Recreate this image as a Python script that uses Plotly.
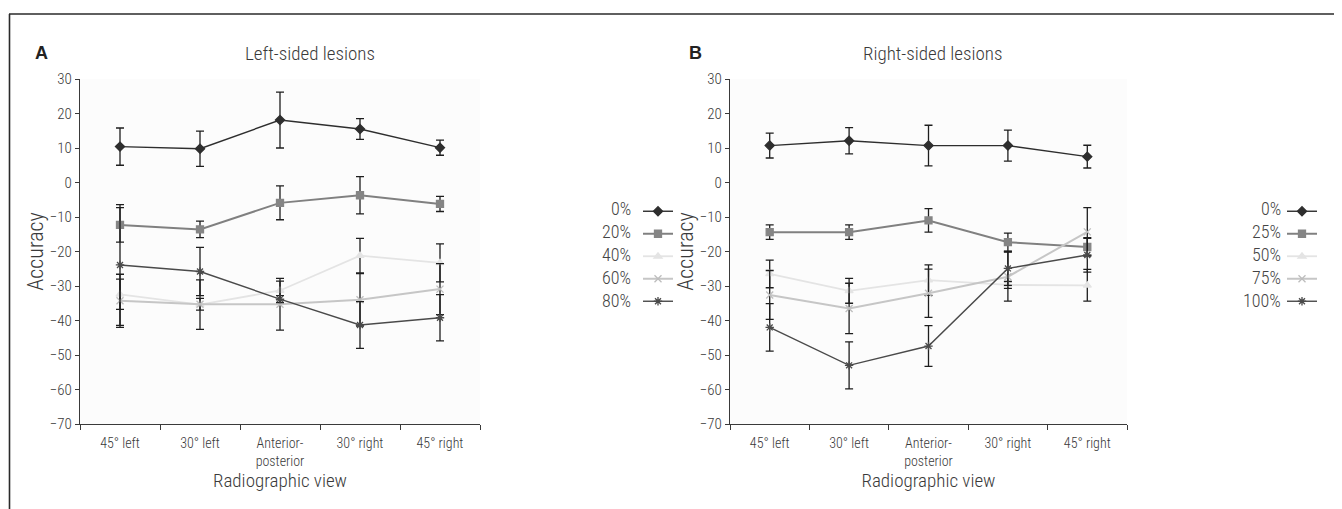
import plotly.graph_objects as go

# ---------------- data ----------------
views = ["45° left", "30° left", "Anterior-<br>posterior", "30° right", "45° right"]

left_names = ["0%", "20%", "40%", "60%", "80%"]
left_0 = [10.4, 9.8, 18.1, 15.5, 10.1]
left_0_err = [5.4, 5.1, 8.1, 3.0, 2.2]
left_20 = [-12.3, -13.6, -5.9, -3.7, -6.2]
left_20_err = [5.0, 2.4, 4.9, 5.4, 2.2]
left_40 = [-32.4, -35.4, -31.3, -21.2, -23.3]
left_40_err = [4.4, 7.2, 2.7, 5.0, 5.5]
left_60 = [-34.3, -35.3, -35.3, -34.0, -30.9]
left_60_err = [7.7, 1.7, 7.5, 7.6, 7.4]
left_80 = [-23.9, -25.8, -33.8, -41.3, -39.2]
left_80_err = [17.5, 7.0, 1.0, 6.8, 6.7]

right_names = ["0%", "25%", "50%", "75%", "100%"]
right_0 = [10.7, 12.1, 10.7, 10.7, 7.5]
right_0_err = [3.6, 3.8, 5.9, 4.5, 3.3]
right_25 = [-14.4, -14.4, -11.0, -17.3, -18.7]
right_25_err = [2.1, 2.1, 3.4, 2.6, 2.5]
right_50 = [-26.5, -31.4, -28.3, -29.7, -29.8]
right_50_err = [4.0, 3.6, 4.4, 1.0, 4.6]
right_75 = [-32.6, -36.5, -32.1, -27.3, -14.3]
right_75_err = [7.1, 7.3, 7.0, 7.1, 7.0]
right_100 = [-42.0, -53.0, -47.4, -24.9, -21.0]
right_100_err = [6.9, 6.8, 5.9, 4.9, 5.0]

y_ticks = [30, 20, 10, 0, -10, -20, -30, -40, -50, -60, -70]

# ---------------- styles ----------------
W, H = 1342, 509
OFF = 8  # page offset of the figure inside the browser window
FONT = "Roboto Condensed, Liberation Sans Narrow, Liberation Sans, Arial, sans-serif"
AX = "#3a3a3a"
TXT = "#3a3a3a"

styles = [
    dict(line="#2e2e2e", width=1.4, symbol="diamond", msize=7, mcolor="#2e2e2e"),
    dict(line="#808080", width=2.0, symbol="square", msize=7, mcolor="#858585"),
    dict(line="#e4e4e4", width=1.8, symbol="triangle-up", msize=7, mcolor="#e4e4e4"),
    dict(line="#c6c6c6", width=2.0, symbol="x-thin-open", msize=7, mcolor="#bdbdbd"),
    dict(line="#4a4a4a", width=1.4, symbol="asterisk-open", msize=7, mcolor="#4a4a4a"),
]

left_series = [(left_0, left_0_err), (left_20, left_20_err), (left_40, left_40_err),
               (left_60, left_60_err), (left_80, left_80_err)]
right_series = [(right_0, right_0_err), (right_25, right_25_err), (right_50, right_50_err),
                (right_75, right_75_err), (right_100, right_100_err)]

fig = go.Figure()

def add_panel(series, names, xa, ya, legend):
    for (vals, errs), name, st in zip(series, names, styles):
        fig.add_trace(go.Scatter(
            x=views, y=vals, name="", legend=legend, xaxis=xa, yaxis=ya,
            mode="lines+markers",
            line=dict(color=st["line"], width=st["width"]),
            marker=dict(symbol=st["symbol"], size=st["msize"], color=st["mcolor"],
                        line=dict(color=st["mcolor"], width=1.3)),
            error_y=dict(type="data", array=errs, visible=True, color="#1e1e1e",
                         thickness=1.3, width=4),
            showlegend=True,
        ))

add_panel(left_series, left_names, "x", "y", "legend")
add_panel(right_series, right_names, "x2", "y2", "legend2")

def px_x(p):
    return (p - OFF) / W

def px_y(p):
    return 1 - (p - OFF) / H

y_dom = [px_y(424), px_y(79)]

axis_common = dict(
    showline=True, linecolor=AX, linewidth=1.2, showgrid=False, zeroline=False,
    ticks="outside", tickcolor=AX, tickwidth=1.2, automargin=False,
)
tick_font_x = dict(family=FONT, size=14, color=TXT, weight=300)
tick_font_y = dict(family=FONT, size=15, color=TXT, weight=300)
title_font = dict(family=FONT, size=19, color=TXT, weight=300)
ytitle_font = dict(family=FONT, size=22, color=TXT, weight=300)

xaxis_common = dict(type="category", tickson="boundaries", ticklen=5, range=[-0.5, 4.5],
                    ticklabelstandoff=6, tickfont=tick_font_x,
                    title=dict(text="Radiographic view", font=title_font, standoff=4),
                    **axis_common)
yaxis_common = dict(domain=y_dom, range=[-70, 30], tickvals=y_ticks, ticklen=4,
                    tickfont=tick_font_y,
                    title=dict(text="Accuracy", font=ytitle_font, standoff=0),
                    **axis_common)

fig.update_layout(
    template="none",
    width=W, height=H,
    margin=dict(l=0, r=0, t=0, b=0, pad=0),
    paper_bgcolor="white", plot_bgcolor="#fcfcfc",
    font=dict(family=FONT, color=TXT),
    xaxis=dict(domain=[px_x(80), px_x(480)], anchor="y", **xaxis_common),
    yaxis=dict(anchor="x", **yaxis_common),
    xaxis2=dict(domain=[px_x(730), px_x(1127)], anchor="y2", **xaxis_common),
    yaxis2=dict(anchor="x2", **yaxis_common),
    legend=dict(x=px_x(638), y=px_y(195), xanchor="left", yanchor="top",
                bgcolor="rgba(0,0,0,0)", font=dict(family=FONT, size=15),
                itemwidth=30, tracegroupgap=0),
    legend2=dict(x=px_x(1282), y=px_y(195), xanchor="left", yanchor="top",
                 bgcolor="rgba(0,0,0,0)", font=dict(family=FONT, size=15),
                 itemwidth=30, tracegroupgap=0),
    showlegend=True,
)

annotations = []
letter_font = dict(family="Liberation Sans, Arial", size=18, color="#222")
for txt, x in (("<b>A</b>", 41), ("<b>B</b>", 695)):
    annotations.append(dict(text=txt, x=px_x(x), y=px_y(53), xref="paper", yref="paper",
                            xanchor="center", yanchor="middle", showarrow=False, font=letter_font))
for txt, x in (("Left-sided lesions", 310), ("Right-sided lesions", 933)):
    annotations.append(dict(text=txt, x=px_x(x), y=px_y(53), xref="paper", yref="paper",
                            xanchor="center", yanchor="middle", showarrow=False, font=title_font))
# legend labels (text sits left of the symbol in the original)
row_y = [208, 231, 254, 277, 300]
leg_font = dict(family=FONT, size=18, color="#444", weight=300)
for name, ry in zip(left_names, row_y):
    annotations.append(dict(text=name, x=px_x(633), y=px_y(ry), xref="paper", yref="paper",
                            xanchor="right", yanchor="middle", showarrow=False, font=leg_font))
for name, ry in zip(right_names, row_y):
    annotations.append(dict(text=name, x=px_x(1283), y=px_y(ry), xref="paper", yref="paper",
                            xanchor="right", yanchor="middle", showarrow=False, font=leg_font))
fig.update_layout(annotations=annotations)

# outer frame (top and left rules)
fig.add_shape(type="line", xref="paper", yref="paper", x0=px_x(9), x1=1, y0=px_y(14), y1=px_y(14),
              line=dict(color="#2a2a2a", width=1.6))
fig.add_shape(type="line", xref="paper", yref="paper", x0=px_x(9.5), x1=px_x(9.5), y0=0, y1=px_y(14),
              line=dict(color="#2a2a2a", width=1.6))

fig.write_html("out.html")
